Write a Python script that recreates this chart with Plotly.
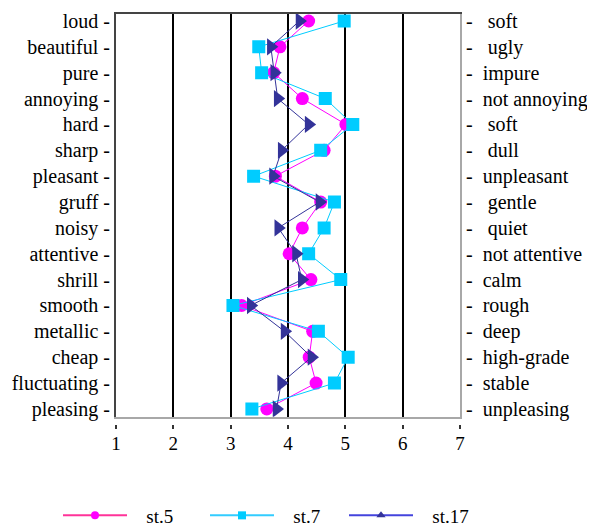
import plotly.graph_objects as go

left_labels = ["loud", "beautiful", "pure", "annoying", "hard", "sharp", "pleasant", "gruff",
               "noisy", "attentive", "shrill", "smooth", "metallic", "cheap", "fluctuating", "pleasing"]
right_labels = ["soft", "ugly", "impure", "not annoying", "soft", "dull", "unpleasant", "gentle",
                "quiet", "not attentive", "calm", "rough", "deep", "high-grade", "stable", "unpleasing"]
right_indent = [3, 3, 2, 2, 3, 3, 2, 3, 3, 2, 2, 2, 2, 2, 2, 2]

st5 = [4.36, 3.86, 3.75, 4.25, 5.01, 4.63, 3.78, 4.57, 4.25, 4.02, 4.40, 3.19, 4.43, 4.37, 4.49, 3.63]
st7 = [4.98, 3.49, 3.54, 4.65, 5.13, 4.57, 3.40, 4.81, 4.63, 4.36, 4.92, 3.04, 4.53, 5.05, 4.81, 3.37]
st17 = [4.20, 3.70, 3.76, 3.82, 4.36, 3.89, 3.74, 4.55, 3.83, 4.14, 4.24, 3.35, 3.94, 4.41, 3.88, 3.80]

x_ticks = [1, 2, 3, 4, 5, 6, 7]

rows = list(range(len(left_labels)))
FONT = "Liberation Serif, Times New Roman, serif"
NB = "\u00a0"

fig = go.Figure()

series = [
    ("st.5", st5, "#ff00ff", "#ff3399", "circle", 13),
    ("st.7", st7, "#00ccff", "#33ccff", "square", 13),
    ("st.17", st17, "#333399", "#4444dd", "triangle-right", 15),
]
for name, vals, col, lcol, sym, size in series:
    fig.add_trace(go.Scatter(
        x=vals, y=rows, mode="lines+markers", name=name, showlegend=False,
        line=dict(color=col, width=1),
        marker=dict(symbol=sym, size=size, color=col),
    ))

# page body has an 8px margin -> figure is 587x517, everything shifted by -8
OFF = 8
W, HT = 595 - OFF, 525 - OFF

# legend-only entries, one legend per series
leg_symbols = {"st.5": "circle", "st.7": "square", "st.17": "triangle-up"}
leg_ids = ["legend", "legend2", "legend3"]
leg_line_start = [64, 211, 350]  # page px
for i, (name, vals, col, lcol, sym, size) in enumerate(series):
    fig.add_trace(go.Scatter(
        x=[None], y=[None], mode="lines+markers", name=NB * 3 + name,
        legend=leg_ids[i],
        line=dict(color=lcol, width=2),
        marker=dict(symbol=leg_symbols[name], size=8, color=col),
    ))

# invisible trace for right axis
fig.add_trace(go.Scatter(x=st5, y=rows, yaxis="y2", mode="markers",
                         marker=dict(opacity=0), showlegend=False, hoverinfo="skip"))
# invisible traces for extra x axes
fig.add_trace(go.Scatter(x=x_ticks, y=[0]*7, xaxis="x2", mode="markers",
                         marker=dict(opacity=0), showlegend=False, hoverinfo="skip"))
fig.add_trace(go.Scatter(x=x_ticks, y=[0]*7, xaxis="x3", mode="markers",
                         marker=dict(opacity=0), showlegend=False, hoverinfo="skip"))

T, B = 14 - OFF, 40
H = HT - T - B
bottom_px = 416.7 - OFF
d0 = (HT - B - bottom_px) / H
tick_pos = (HT - B - (423.5 - OFF)) / H

legend_common = dict(orientation="h", xref="container", xanchor="left",
                     yref="container", y=(HT - (515.5 - OFF)) / HT, yanchor="middle",
                     font=dict(family=FONT, size=19), itemwidth=64,
                     bgcolor="rgba(0,0,0,0)")

yr = [15.3, -0.27]
fig.update_layout(
    width=W, height=HT,
    margin=dict(l=116 - OFF, r=W - (460 - OFF), t=T, b=B, autoexpand=False),
    plot_bgcolor="white", paper_bgcolor="white",
    font=dict(family=FONT, size=20, color="black"),
    xaxis=dict(range=[1, 7], tickvals=x_ticks, ticktext=[str(v) for v in x_ticks],
               showgrid=False, zeroline=False, showline=True, linecolor="#a8a8a8", linewidth=2,
               ticks="", ticklabelstandoff=8, tickfont=dict(size=19), automargin=False),
    xaxis2=dict(range=[1, 7], overlaying="x", side="top", anchor="y",
                tickvals=[2, 3, 4, 5, 6], showticklabels=False, ticks="",
                showgrid=True, gridcolor="black", gridwidth=1.6, automargin=False,
                showline=True, linecolor="#444444", linewidth=2, zeroline=False),
    xaxis3=dict(range=[1, 7], overlaying="x", anchor="free", position=tick_pos,
                tickvals=x_ticks, showticklabels=False, ticks="outside", ticklen=4,
                tickwidth=1.5, tickcolor="#333333", showgrid=False, showline=False,
                zeroline=False, automargin=False),
    yaxis=dict(range=yr, domain=[d0, 1], tickvals=rows,
               ticktext=[l + " -" for l in left_labels], automargin=False,
               showgrid=False, zeroline=False, showline=True, linecolor="#444444", linewidth=2,
               ticks="", ticklabelstandoff=0),
    yaxis2=dict(range=yr, overlaying="y", side="right", anchor="x", tickvals=rows,
                ticktext=["-" + NB * n + l for l, n in zip(right_labels, right_indent)],
                showgrid=False, zeroline=False, showline=True, linecolor="#a8a8a8", linewidth=2,
                ticks="", ticklabelstandoff=0, automargin=False, tickfont=dict(size=20)),
    legend=dict(legend_common, x=(leg_line_start[0] - OFF - 6) / W),
    legend2=dict(legend_common, x=(leg_line_start[1] - OFF - 6) / W),
    legend3=dict(legend_common, x=(leg_line_start[2] - OFF - 6) / W),
    showlegend=True,
)

fig.write_html("out.html")
